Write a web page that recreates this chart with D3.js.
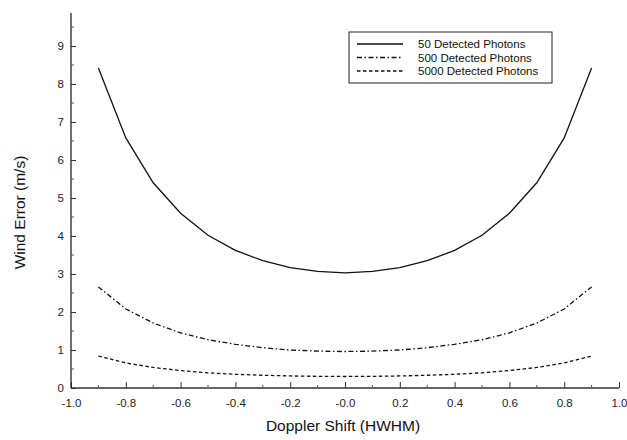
<!DOCTYPE html>
<html>
<head>
<meta charset="utf-8">
<script src="https://cdn.jsdelivr.net/npm/d3@7"></script>
<style>
  html, body { margin: 0; padding: 0; background: #fff; }
  svg text { font-family: "Liberation Sans", Arial, sans-serif; }
</style>
</head>
<body>
<svg id="chart" width="627" height="440"></svg>
<script>
// Doppler shift positions (HWHM)
const shifts = [-0.9, -0.8, -0.7, -0.6, -0.5, -0.4, -0.3, -0.2, -0.1, 0.0, 0.1, 0.2, 0.3, 0.4, 0.5, 0.6, 0.7, 0.8, 0.9];
// Wind error (m/s) for each photon count
const err50   = [8.42, 6.58, 5.40, 4.60, 4.02, 3.62, 3.35, 3.17, 3.07, 3.03, 3.07, 3.17, 3.35, 3.62, 4.02, 4.60, 5.40, 6.58, 8.42];
const err500  = [2.66, 2.08, 1.71, 1.45, 1.27, 1.15, 1.06, 1.00, 0.97, 0.96, 0.97, 1.00, 1.06, 1.15, 1.27, 1.45, 1.71, 2.08, 2.66];
const err5000 = [0.84, 0.66, 0.54, 0.46, 0.40, 0.36, 0.335, 0.317, 0.307, 0.303, 0.307, 0.317, 0.335, 0.36, 0.40, 0.46, 0.54, 0.66, 0.84];
const seriesNames = ["50 Detected Photons", "500 Detected Photons", "5000 Detected Photons"];
const xTicks = [-1.0, -0.8, -0.6, -0.4, -0.2, 0.0, 0.2, 0.4, 0.6, 0.8, 1.0];
const xTickLabels = ["-1.0", "-0.8", "-0.6", "-0.4", "-0.2", "-0.0", "0.2", "0.4", "0.6", "0.8", "1.0"];
const yTicks = [0, 1, 2, 3, 4, 5, 6, 7, 8, 9];

const svg = d3.select("#chart");
const plotLeft = 71, plotRight = 619, plotTop = 13, plotBottom = 388;

const x = d3.scaleLinear().domain([-1, 1]).range([plotLeft, plotRight]);
const y = d3.scaleLinear().domain([0, 9]).range([plotBottom, 46]);
const yTop = y.invert(plotTop);

const series = [
  { values: err50,   dash: null },
  { values: err500,  dash: "5,2.5,1.5,2.5" },
  { values: err5000, dash: "3.5,2.5" }
];

// Curves
const line = d3.line().x((d, i) => x(shifts[i])).y(d => y(d));
const g = svg.append("g");
series.forEach(s => {
  g.append("path")
    .datum(s.values)
    .attr("d", line)
    .attr("fill", "none")
    .attr("stroke", "#111")
    .attr("stroke-width", 1.3)
    .attr("stroke-dasharray", s.dash);
});

// Axes
const xMinor = d3.range(-9, 10, 2).map(v => v / 10);
const yMinor = d3.range(0.5, 9.6, 1);

const xAxis = svg.append("g").attr("transform", `translate(0,${plotBottom})`);
xAxis.call(d3.axisBottom(x).tickValues(xTicks).tickSizeInner(-6).tickSizeOuter(0).tickFormat((d, i) => xTickLabels[i]));
xAxis.selectAll(".tick line").attr("stroke", "#333");
xAxis.selectAll(".tick text").attr("y", 11).attr("font-size", 11.5).attr("fill", "#222")
  .attr("font-family", "Liberation Sans, Arial, sans-serif");
xAxis.selectAll(".tick-minor").data(xMinor).enter().append("line")
  .attr("x1", d => x(d)).attr("x2", d => x(d)).attr("y1", 0).attr("y2", -3).attr("stroke", "#555");
xAxis.select(".domain").attr("stroke", "#333").attr("stroke-width", 1.3).attr("d", `M${plotLeft},0H${plotRight}`);

const yAxis = svg.append("g").attr("transform", `translate(${plotLeft},0)`);
yAxis.call(d3.axisLeft(y).tickValues(yTicks).tickSizeInner(-5).tickSizeOuter(0).tickFormat(d3.format("d")));
yAxis.selectAll(".tick line").attr("stroke", "#333");
yAxis.selectAll(".tick text").attr("x", -7).attr("font-size", 11.5).attr("fill", "#222")
  .attr("font-family", "Liberation Sans, Arial, sans-serif");
yAxis.selectAll(".tick-minor").data(yMinor).enter().append("line")
  .attr("x1", 0).attr("x2", 3).attr("y1", d => y(d)).attr("y2", d => y(d)).attr("stroke", "#555");
yAxis.select(".domain").attr("stroke", "#222").attr("stroke-width", 1.3).attr("d", `M0,${y(yTop)}V${plotBottom}`);

// Axis titles
svg.append("text")
  .attr("x", (plotLeft + plotRight) / 2 - 2).attr("y", 431)
  .attr("text-anchor", "middle").attr("font-size", 15.5).attr("fill", "#111")
  .text("Doppler Shift (HWHM)");
svg.append("text")
  .attr("transform", `translate(25,${(plotTop + plotBottom) / 2 + 12}) rotate(-90)`)
  .attr("text-anchor", "middle").attr("font-size", 15.5).attr("fill", "#111")
  .text("Wind Error (m/s)");

// Legend
const lg = svg.append("g").attr("transform", "translate(349,32)");
lg.append("rect").attr("width", 203).attr("height", 51)
  .attr("fill", "#fff").attr("stroke", "#222").attr("stroke-width", 1);
series.forEach((s, i) => {
  const yy = 12 + i * 13.5;
  lg.append("line").attr("x1", 8).attr("x2", 54).attr("y1", yy).attr("y2", yy)
    .attr("stroke", "#111").attr("stroke-width", 1.3).attr("stroke-dasharray", s.dash);
  lg.append("text").attr("x", 69).attr("y", yy).attr("dy", "0.35em")
    .attr("font-size", 11.5).attr("fill", "#111").text(seriesNames[i]);
});
</script>
</body>
</html>
